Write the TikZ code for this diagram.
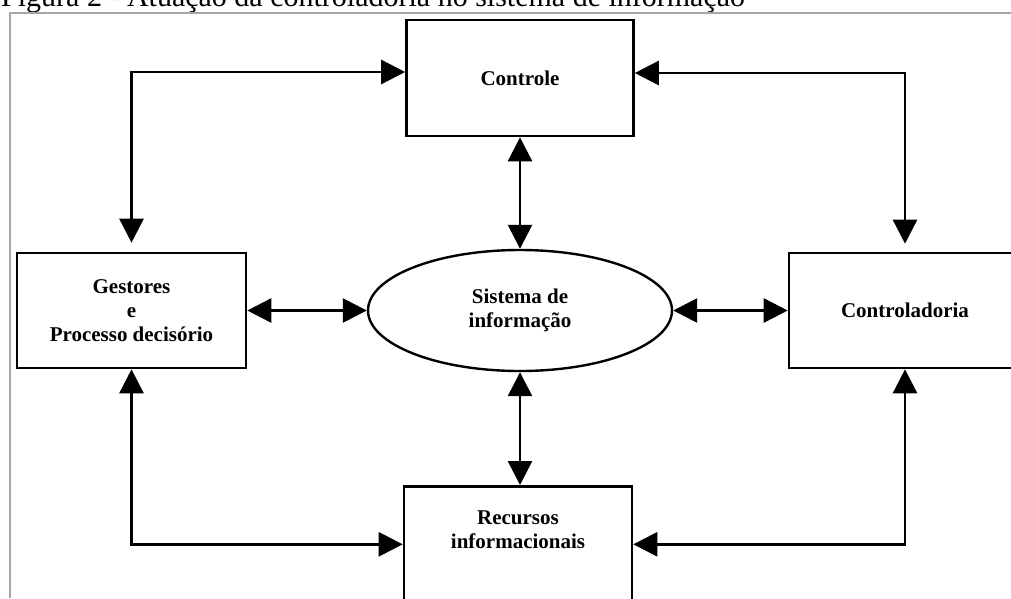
\documentclass[tikz,border=0pt]{standalone}
\usepackage{fontspec}
\setmainfont{Liberation Serif}
\usetikzlibrary{arrows.meta,shapes.geometric}
\begin{document}
\begin{tikzpicture}[x=1pt,y=-1pt,
  box/.style={draw=black, line width=2.6pt, rectangle, inner sep=0pt,
    font=\fontsize{21}{24}\selectfont\bfseries, align=center},
  tip/.style={Triangle[length=24pt,width=24pt]},
  link/.style={line width=2.6pt, {Triangle[length=24pt,width=24pt]}-{Triangle[length=24pt,width=24pt]}}]
\useasboundingbox (0,0) rectangle (1011,598);
\fill[white] (0,0) rectangle (1011,598);

% caption and frame
\node[anchor=base west, font=\fontsize{30}{34}\selectfont, inner sep=0pt] (title) at (1,6)
  {Figura 2 - Atuação da controladoria no sistema de informação};
\draw[black!35, line width=1.6pt] (10,598) -- (10,13) -- (1011,13);

% blocks
\node[box, minimum width=227pt, minimum height=116pt] (ctrl) at (520,78) {Controle};
\node[box, minimum width=229pt, minimum height=115pt] (gest) at (131.5,310.5)
  {Gestores\\e\\Processo decisório};
\node[box, minimum width=232pt, minimum height=115pt] (cont) at (905,310.5) {Controladoria};
\node[box, ellipse, line width=2.4pt, minimum width=304pt, minimum height=121pt] (info) at (520,310.5)
  {Sistema de\\informação};
\node[box, anchor=north, minimum width=228pt, minimum height=116pt] (rec) at (518,485) {};
\node[font=\fontsize{21}{24}\selectfont\bfseries, align=center, inner sep=0pt] (rectxt) at (518,530)
  {Recursos\\informacionais};

% connectors
\draw[link] ([yshift=6pt]ctrl.west) -| ([yshift=9pt]gest.north);
\draw[link] ([yshift=5pt]ctrl.east) -| ([yshift=8pt]cont.north);
\draw[link] (gest.south) |- (rec.west);
\draw[link] (cont.south) |- (rec.east);
\draw[link] (gest.east) -- (info.west);
\draw[link] (info.east) -- (cont.west);
\draw[link] (ctrl.south) -- (info.north);
\draw[link] (info.south) -- (info.south |- rec.north);
\end{tikzpicture}
\end{document}
